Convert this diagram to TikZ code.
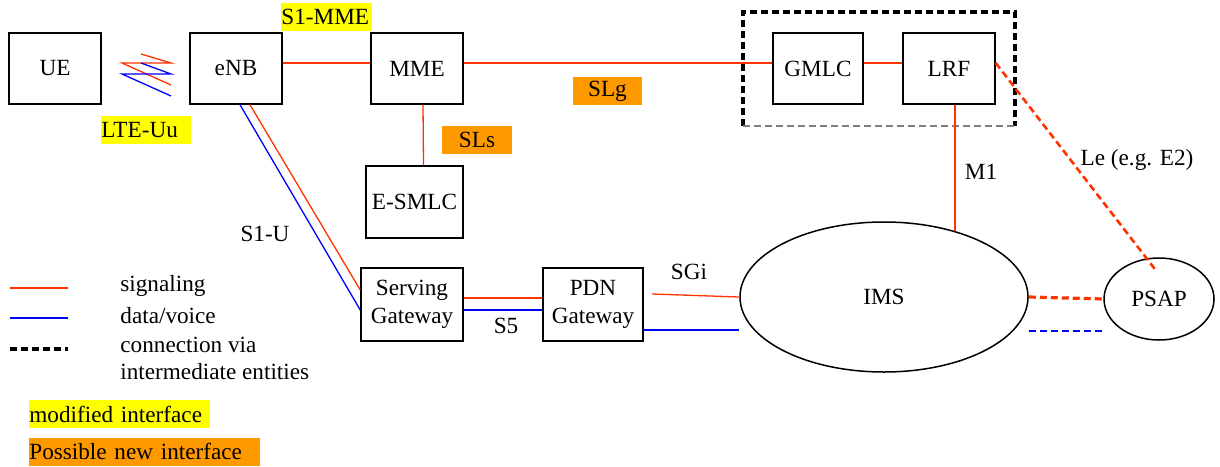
\documentclass[tikz,border=0pt]{standalone}
\usepackage{fontspec}
\setmainfont{Liberation Serif}
\usetikzlibrary{shapes.geometric}
\definecolor{sigred}{RGB}{255,51,0}
\definecolor{datblue}{RGB}{0,0,255}
\definecolor{modyel}{RGB}{255,255,0}
\definecolor{newor}{RGB}{255,153,0}
\tikzset{
  ent/.style={draw, line width=0.75pt, minimum width=46pt, minimum height=35.5pt, inner sep=0pt},
  cloud/.style={draw, ellipse, line width=0.75pt, inner sep=0pt},
  sig/.style={draw=sigred, line width=0.65pt},
  dat/.style={draw=datblue, line width=0.65pt},
  via/.style={line width=1.6pt, dash pattern=on 3.5pt off 2pt},
  modif/.style={fill=modyel, inner sep=0pt, minimum height=14pt, align=left},
  newif/.style={fill=newor, inner sep=0pt, minimum height=14pt, align=left},
  lbl/.style={inner sep=0pt},
}
\begin{document}
\begin{tikzpicture}[x=0.5pt,y=-0.5pt,font=\fontsize{11.6}{14.2}\selectfont]
    \useasboundingbox (0,0) rectangle (1220,466);

    % entities
    \node[ent] (ue) at (55,68.5) {UE};
    \node[ent] (enb) at (236,68.5) {eNB};
    \node[ent] (mme) at (417,68.5) {MME};
    \node[ent, minimum width=48.5pt, minimum height=36pt] (esmlc) at (414.5,202) {E-SMLC};
    \node[ent, minimum width=45pt] (gmlc) at (818,68.5) {GMLC};
    \node[ent] (lrf) at (949,68.5) {LRF};
    \node[ent, minimum width=51pt, minimum height=36.5pt, align=center] (sgw) at (412,304.5) {Serving\\Gateway};
    \node[ent, minimum width=50pt, minimum height=36.5pt, align=center] (pgw) at (593,304.5) {PDN\\Gateway};
    \node[cloud, minimum width=144pt, minimum height=75pt] (ims) at (884,297) {IMS};
    \node[cloud, minimum width=55pt, minimum height=41pt] (psap) at (1159,299) {PSAP};

    % dashed group round GMLC and LRF
    \draw[via] (743,126) -- (743,12) -- (1015,12) -- (1015,126);
    \draw[gray, line width=0.7pt, dash pattern=on 3.5pt off 2pt] (743,126) -- (1015,126);

    % radio link
    \draw[sig] (141,54) -- (171,63) -- (122,63) -- (171,85);
    \draw[dat] (141,63) -- (171,74) -- (122,74) -- (171,96);

    % signalling
    \draw[sig] ([yshift=2.75pt]enb.east) -- ([yshift=2.75pt]mme.west);
    \draw[sig] ([yshift=2.75pt]mme.east) -- ([yshift=2.75pt]gmlc.west);
    \draw[sig] ([yshift=2.75pt]gmlc.east) -- ([yshift=2.75pt]lrf.west);
    \draw[sig] ([xshift=3pt]mme.south) -- ([xshift=4.5pt]esmlc.north);
    \draw[sig] ([xshift=3pt]lrf.south) -- ([xshift=3pt,yshift=-5pt]lrf.south |- ims.north);
    \draw[sig] ([xshift=7pt]enb.south) -- ([yshift=7.25pt]sgw.west);
    \draw[dat] ([xshift=2pt]enb.south) -- ([yshift=-2.75pt]sgw.west);
    \draw[sig] ([yshift=3.25pt]sgw.east) -- ([yshift=3.25pt]pgw.west);
    \draw[dat] ([yshift=-2.75pt]sgw.east) -- ([yshift=-2.75pt]pgw.west);
    \coordinate (sgi) at (652,294);
    \draw[sig] (sgi) -- (ims.west);
    \draw[dat] ([yshift=-12.75pt]pgw.east) -- ([yshift=-16.5pt]ims.west);
    \draw[sig, via] (ims.east) -- (psap.west);
    \draw[dat, via, line width=0.7pt] ([yshift=-17pt]ims.east) -- ([yshift=-16pt]psap.west);
    \draw[sig, via, line width=1.3pt] ([yshift=2.75pt]lrf.east) -- ([xshift=-2pt,yshift=-6pt]psap.north);

    % interface labels
    \node[modif, anchor=west, text width=45.5pt] (s1mme) at (281,16.5) {S1-MME};
    \node[modif, anchor=west, text width=45pt] (lteuu) at (101,130) {LTE-Uu};
    \node[newif, minimum width=34.5pt] (slg) at (607.5,91) {SLg};
    \node[newif, minimum width=35pt] (sls) at (477,139.5) {SLs};
    \node[lbl] (s1u) at (265,234) {S1-U};
    \node[lbl] (m1) at (981,172) {M1};
    \node[lbl] (le) at (1137,160) {Le (e.g. E2)};
    \node[lbl] (sgilbl) at (689,272) {SGi};
    \node[lbl] (s5) at (506,326) {S5};

    % legend
    \draw[sig] (10,288) -- (68,288);
    \draw[dat] (10,318) -- (68,318);
    \draw[via] (10,349) -- (68,349);
    \node[lbl, anchor=west] (legsig) at (120,286) {signaling};
    \node[lbl, anchor=west] (legdat) at (120,316) {data/voice};
    \node[lbl, anchor=west] (legvia) at (120,345) {connection via};
    \node[lbl, anchor=west] (legvia2) at (120,372) {intermediate entities};
    \node[modif, anchor=west, text width=90.5pt] (legmod) at (29,414) {modified interface};
    \node[newif, anchor=west, text width=115.5pt] (legnew) at (29,451.5) {Possible new interface};
\end{tikzpicture}
\end{document}
